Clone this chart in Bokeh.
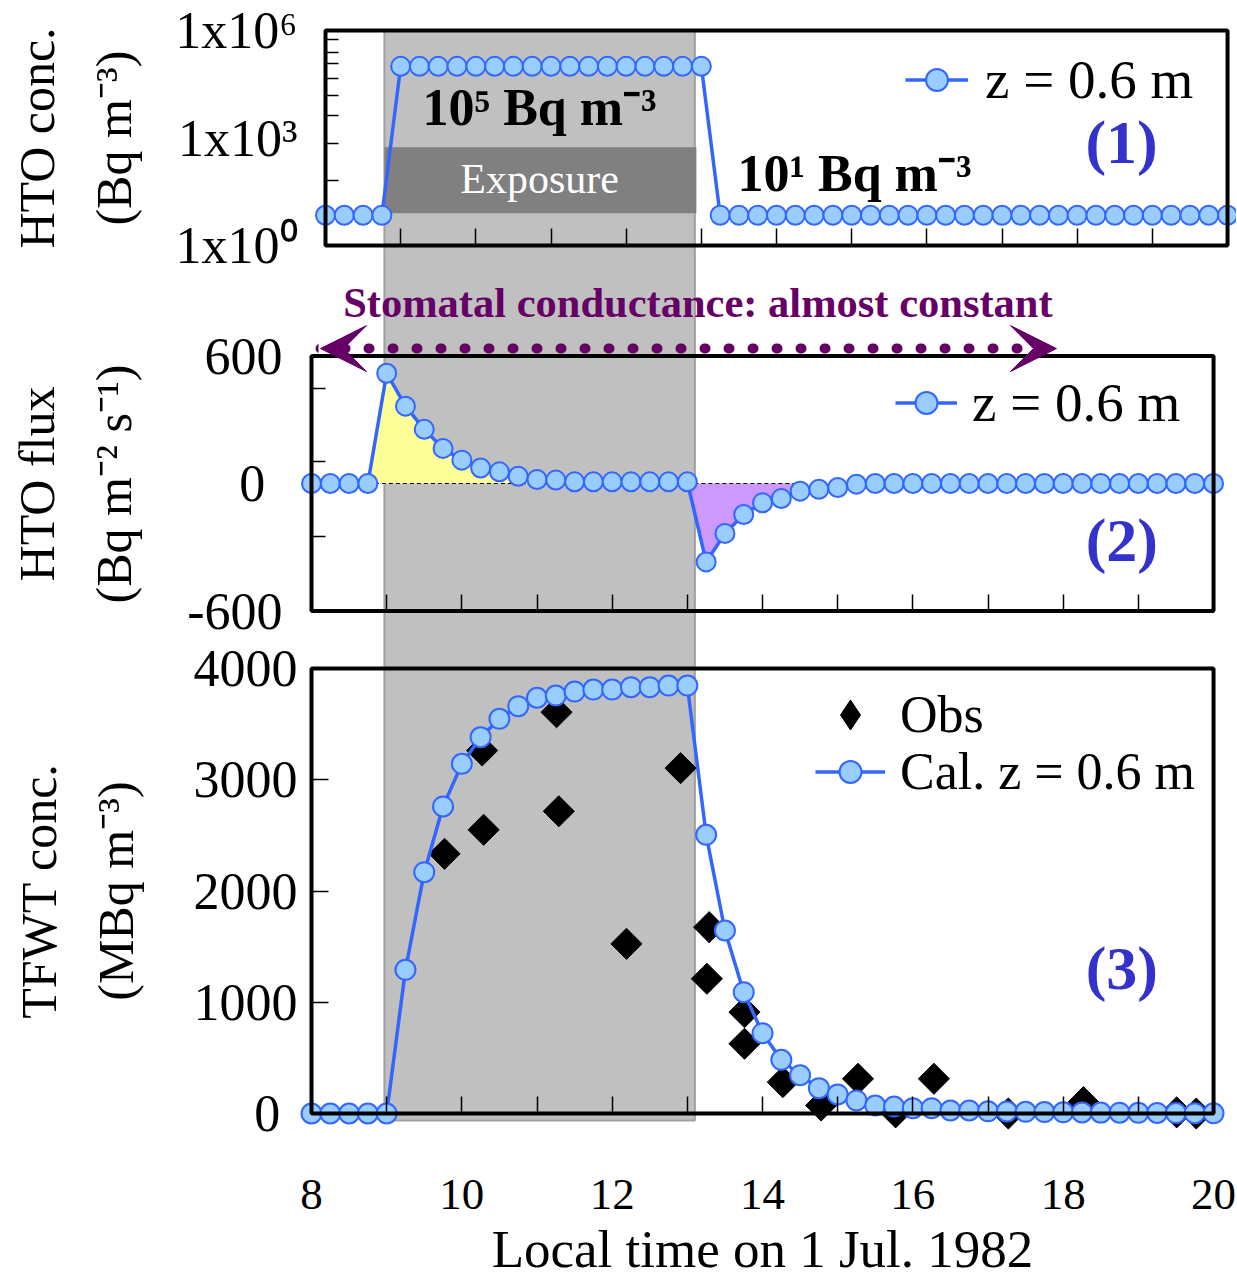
import math
from bokeh.plotting import figure
from bokeh.models import (Range1d, FixedTicker, Legend, LegendItem, Arrow, VeeHead,
                          LinearAxis, LogScale)
from bokeh.core.properties import value
from bokeh.embed import file_html
from bokeh.resources import INLINE

FONT = "Liberation Serif"

# ------------------------------------------------------------------ data
TIME = [8.0, 8.25, 8.5, 8.75, 9.0, 9.25, 9.5, 9.75, 10.0, 10.25, 10.5, 10.75,
        11.0, 11.25, 11.5, 11.75, 12.0, 12.25, 12.5, 12.75, 13.0, 13.25, 13.5,
        13.75, 14.0, 14.25, 14.5, 14.75, 15.0, 15.25, 15.5, 15.75, 16.0, 16.25,
        16.5, 16.75, 17.0, 17.25, 17.5, 17.75, 18.0, 18.25, 18.5, 18.75, 19.0,
        19.25, 19.5, 19.75, 20.0]

# (1) HTO concentration in air, z = 0.6 m (Bq m-3)
HTO_CONC = [7, 7, 7, 7,
            1.0e5, 1.0e5, 1.0e5, 1.0e5, 1.0e5, 1.0e5, 1.0e5, 1.0e5, 1.0e5,
            1.0e5, 1.0e5, 1.0e5, 1.0e5, 1.0e5, 1.0e5, 1.0e5, 1.0e5,
            7, 7, 7, 7, 7, 7, 7, 7, 7, 7, 7, 7, 7, 7, 7, 7, 7, 7, 7, 7, 7, 7,
            7, 7, 7, 7, 7, 7]

# (2) HTO flux, z = 0.6 m (Bq m-2 s-1)
HTO_FLUX = [0, 0, 0, 0,
            519, 364, 255, 165, 110, 73, 55, 34, 19, 16, 8, 8, 8, 8, 8, 8, 8,
            -369, -235, -146, -91, -71, -36, -27, -19, -3,
            0, 0, 0, 0, 0, 0, 0, 0, 0, 0, 0, 0, 0, 0, 0, 0, 0, 0, 0]

# (3) TFWT concentration, calculated (MBq m-3)
TFWT_CAL = [0, 0, 0, 0, 0,
            1292, 2169, 2760, 3143, 3383, 3548, 3661, 3737, 3757, 3793, 3811,
            3811, 3832, 3832, 3847, 3847,
            2505, 1645, 1090, 722, 483, 344, 228, 171, 117, 72, 63, 48, 48, 27,
            27, 20, 18, 15, 13, 11, 10, 8, 7, 6, 5, 4, 3, 2]

# (3) TFWT concentration, observed
OBS_TIME = [9.77, 10.27, 10.29, 11.26, 11.29, 12.19, 12.91, 13.26, 13.29, 13.76,
            13.76, 14.27, 14.78, 15.27, 15.77, 16.28, 17.27, 18.27, 19.51, 19.77]
OBS_TFWT = [2334, 3263, 2550, 3607, 2717, 1525, 3104, 1211, 1675, 911,
            627, 282, 72, 312, 10, 312, 0, 102, 10, 0]

HOURS = [8, 9, 10, 11, 12, 13, 14, 15, 16, 17, 18, 19, 20]
HOUR_LABELS = [8, 10, 12, 14, 16, 18, 20]
ODD_HOURS = [9, 11, 13, 15, 17, 19]

P1_TICKS = [1, 1e3, 1e6]
P1_LABELS = ["1x10\u2070", "1x10\u00b3", "1x10\u2076"]
P1_MINOR = [66, 700, 4300, 15000, 46000, 120000, 240000, 560000]
P2_TICKS = [-600, 0, 600]
P2_LABELS = ["-600", "0\u00a0\u200a", "600"]
P2_MINOR = [-251, 102, 447]
P3_TICKS = [0, 1000, 2000, 3000, 4000]
P3_LABELS = ["0\u00a0\u200a", "1000", "2000", "3000", "4000"]

X_LIM = (8, 20)
P1_Y = (1, 1e6)
P2_Y = (-600, 600)
P3_Y = (0, 4000)

EXPOSURE = (8.97, 13.10)        # shaded exposure period (h)
POS_FILL = (8.75, 11.0)         # deposition area (yellow)
NEG_FILL = (13.0, 14.5)         # re-emission area (lilac)
STOMATA_SPAN = (8.12, 17.91)    # extent of the "almost constant" arrow (h)

# ------------------------------------------------------------------ style
BLUE = "#3366ff"
BLUE_FILL = "#99ccff"
LABEL_BLUE = "#3333cc"
PURPLE = "#660066"
GRAY = "#c0c0c0"
GRAY_EDGE = "#a0a0a0"
DARK = "#808080"
YELLOW = "#ffff99"
LILAC = "#cc99ff"

# ------------------------------------------------------------------ layout
# one canvas; each panel gets its own scale (pixel calibration below)
W, H = 1236, 1281
PX_HR = 75.17                       # px per hour
X3_PX8, X1_PX8 = 311, 325           # pixel of 8 h (panels 2-3 / panel 1)
DEC, P1_PX0 = 35.83, 245            # panel 1: px per decade, pixel of 10^0
P2_PXU, P2_PX0 = 0.2125, 483        # panel 2: px per unit, pixel of 0
P3_PXU, P3_PX0 = 0.11125, 1113      # panel 3: px per unit, pixel of 0
BAND_TOP_PX = 30                    # exposure band starts at panel-1 top edge
P3_GRAY_BOTTOM = -63

X_START = 8 - X3_PX8 / PX_HR
X1_START = 8 - X1_PX8 / PX_HR

p = figure(width=W, height=H, output_backend="svg", toolbar_location=None,
           x_range=Range1d(X_START, X_START + W / PX_HR),
           y_range=Range1d(-(H - P3_PX0) / P3_PXU, P3_PX0 / P3_PXU),
           x_axis_location=None, y_axis_location=None,
           min_border_left=0, min_border_right=0, min_border_top=0,
           min_border_bottom=0)
p.extra_x_ranges = {"p1": Range1d(X1_START, X1_START + W / PX_HR)}
p.extra_y_ranges = {
    "p1": Range1d(10 ** (-(H - P1_PX0) / DEC), 10 ** (P1_PX0 / DEC)),
    "p2": Range1d(-(H - P2_PX0) / P2_PXU, P2_PX0 / P2_PXU),
}
p.extra_y_scales = {"p1": LogScale()}
p.outline_line_color = None
p.grid.visible = False
p.background_fill_color = "white"
p.border_fill_color = "white"

P1 = dict(x_range_name="p1", y_range_name="p1")
P2 = dict(y_range_name="p2")


def add_series(x, y, size, **kw):
    ln = p.line(x, y, line_color=BLUE, line_width=3.5, **kw)
    sc = p.scatter(x, y, marker="circle", size=size, fill_color=BLUE_FILL,
                   line_color=BLUE, line_width=2, **kw)
    return ln, sc


def text(x, y, s, size, color="black", bold=False, align="center", **kw):
    p.text(x=[x], y=[y], text=[s], text_font=value(FONT), text_font_size=size,
           text_font_style="bold" if bold else "normal", text_color=color,
           text_align=align, text_baseline="middle", **kw)


def box(ylim, **kw):
    p.quad(left=[X_LIM[0]], right=[X_LIM[1]], bottom=[ylim[0]], top=[ylim[1]],
           fill_color=None, line_color="black", line_width=4, **kw)


def yaxis(bounds, ticks, labels, minor, major_in, minor_in, standoff, title,
          title_standoff, **kw):
    ax = LinearAxis(fixed_location=8, bounds=bounds,
                    ticker=FixedTicker(ticks=ticks, minor_ticks=minor), **kw)
    ax.major_label_overrides = {t: l for t, l in zip(ticks, labels)}
    ax.axis_line_color = None
    ax.major_tick_in, ax.major_tick_out = major_in, 0
    ax.minor_tick_in, ax.minor_tick_out = minor_in, 0
    ax.major_tick_line_color = ax.minor_tick_line_color = "black"
    ax.major_tick_line_width = ax.minor_tick_line_width = 1.5
    ax.major_label_text_font = FONT
    ax.major_label_text_font_size = "52px"
    ax.major_label_text_color = "black"
    ax.major_label_standoff = standoff
    ax.axis_label = title
    ax.axis_label_text_font = FONT
    ax.axis_label_text_font_size = "50px"
    ax.axis_label_text_font_style = "normal"
    ax.axis_label_text_color = "black"
    ax.axis_label_text_line_height = 1.373
    ax.axis_label_standoff = title_standoff
    p.add_layout(ax, "left")


def xticks(loc, ticks, minor, labels=False, **kw):
    ax = LinearAxis(fixed_location=loc, bounds=X_LIM,
                    ticker=FixedTicker(ticks=ticks, minor_ticks=minor), **kw)
    ax.axis_line_color = None
    ax.major_tick_in, ax.major_tick_out = 17, 0
    ax.minor_tick_in, ax.minor_tick_out = 17, 0
    ax.major_tick_line_color = ax.minor_tick_line_color = "black"
    ax.major_tick_line_width = ax.minor_tick_line_width = 1.5
    if not labels:
        ax.major_label_overrides = {t: "" for t in ticks}
    p.add_layout(ax, "below")
    return ax


def legend(items, loc, glyph_w, glyph_h, standoff, size):
    lg = Legend(items=items, location=loc, padding=0, margin=0, spacing=1,
                border_line_color=None, background_fill_alpha=0,
                glyph_width=glyph_w, glyph_height=glyph_h, label_standoff=standoff,
                label_text_font=FONT, label_text_font_size=size,
                label_text_baseline="middle", label_text_color="black")
    p.add_layout(lg)


# ---------------------------------------------------------- exposure band
p.quad(left=[EXPOSURE[0]], right=[EXPOSURE[1]], bottom=[P3_GRAY_BOTTOM],
       top=[(P3_PX0 - BAND_TOP_PX) / P3_PXU], fill_color=GRAY,
       line_color=GRAY_EDGE, line_width=2)

# ================================================================ panel 1
p.quad(left=[EXPOSURE[0]], right=[EXPOSURE[1] + 0.02], bottom=[8], top=[550],
       fill_color=DARK, line_color=None, y_range_name="p1")
text(sum(EXPOSURE) / 2, 70, "Exposure", "42px", color="white", y_range_name="p1")
text(sum(EXPOSURE) / 2, 7100, "10\u2075 Bq m\u207b\u00b3", "52px", bold=True,
     y_range_name="p1")
l1, c1 = add_series(TIME, HTO_CONC, 19, **P1)
text(13.48, 102, "10\u00b9 Bq m\u207b\u00b3", "52px", bold=True, align="left", **P1)
text(18.59, 750, "(1)", "62px", color=LABEL_BLUE, bold=True, **P1)
box(P1_Y, **P1)
yaxis((0.999, 1.001e6), P1_TICKS, P1_LABELS, P1_MINOR, 0, 13, 28,
      "HTO conc.\n(Bq m\u207b\u00b3)", 30, **P1)
xticks(P1_Y[0], HOURS, [], **P1)
legend([LegendItem(label="z = 0.6 m", renderers=[l1, c1])], (905, H - 111),
       63, 55, 17, "55px")

# ================================================================ panel 2
pos = [(t, v) for t, v in zip(TIME, HTO_FLUX) if POS_FILL[0] <= t <= POS_FILL[1]]
neg = [(t, v) for t, v in zip(TIME, HTO_FLUX) if NEG_FILL[0] <= t <= NEG_FILL[1]]
p.varea(x=[t for t, _ in pos], y1=[0] * len(pos), y2=[v for _, v in pos],
        fill_color=YELLOW, **P2)
p.varea(x=[t for t, _ in neg], y1=[0] * len(neg), y2=[v for _, v in neg],
        fill_color=LILAC, **P2)
p.segment(x0=[POS_FILL[0], NEG_FILL[0]], y0=[0, 0], x1=[POS_FILL[1], NEG_FILL[1]],
          y1=[0, 0], line_color="black", line_width=1.2, line_dash="4 3", **P2)
l2, c2 = add_series(TIME, HTO_FLUX, 19, **P2)
text(13.14, 852, "Stomatal conductance: almost constant", "42.5px", color=PURPLE,
     bold=True, **P2)
p.add_layout(Arrow(start=VeeHead(size=46, fill_color=PURPLE, line_color=PURPLE),
                   end=VeeHead(size=46, fill_color=PURPLE, line_color=PURPLE),
                   x_start=STOMATA_SPAN[0], y_start=635,
                   x_end=STOMATA_SPAN[1], y_end=635,
                   line_color=PURPLE, line_width=10, line_dash="1 23",
                   line_cap="round", y_range_name="p2"))
text(18.78, -268, "(2)", "62px", color=LABEL_BLUE, bold=True, **P2)
box(P2_Y, **P2)
yaxis(P2_Y, P2_TICKS, P2_LABELS, P2_MINOR, 0, 14, 29,
      "HTO flux\n(Bq m\u207b\u00b2 s\u207b\u00b9)", 42, **P2)
xticks(P2_Y[0], HOURS, [], **P2)
legend([LegendItem(label="z = 0.6 m", renderers=[l2, c2])], (895, H - 434),
       62, 55, 15, "55px")

# ================================================================ panel 3
obs = p.scatter(OBS_TIME, OBS_TFWT, marker="square", angle=math.pi / 4, size=22,
                fill_color="black", line_color="black")
obs_key = p.scatter(x=[float("nan")], y=[float("nan")], marker="diamond", size=22,
                    fill_color="black", line_color="black")
l3, c3 = add_series(TIME, TFWT_CAL, 20)
text(18.78, 1312, "(3)", "62px", color=LABEL_BLUE, bold=True)
box(P3_Y)
yaxis(P3_Y, P3_TICKS, P3_LABELS, [], 17, 0, 14,
      "TFWT conc.\n(MBq m\u207b\u00b3)", 47)
ax = xticks(P3_Y[0], HOUR_LABELS, ODD_HOURS, labels=True)
ax.major_label_text_font = FONT
ax.major_label_text_font_size = "45px"
ax.major_label_text_color = "black"
ax.major_label_standoff = 66
ax.axis_label = "Local time on 1 Jul. 1982"
ax.axis_label_text_font = FONT
ax.axis_label_text_font_size = "53px"
ax.axis_label_text_font_style = "normal"
ax.axis_label_text_color = "black"
ax.axis_label_standoff = 8
legend([LegendItem(label="Obs", renderers=[obs_key])], (805, H - 752),
       90, 75, 5, "52px")
legend([LegendItem(label="Cal. z = 0.6 m", renderers=[l3, c3])], (815, H - 801),
       70, 55, 15, "52px")

open("out.html", "w").write(file_html(p, INLINE, title="HTO exposure"))
